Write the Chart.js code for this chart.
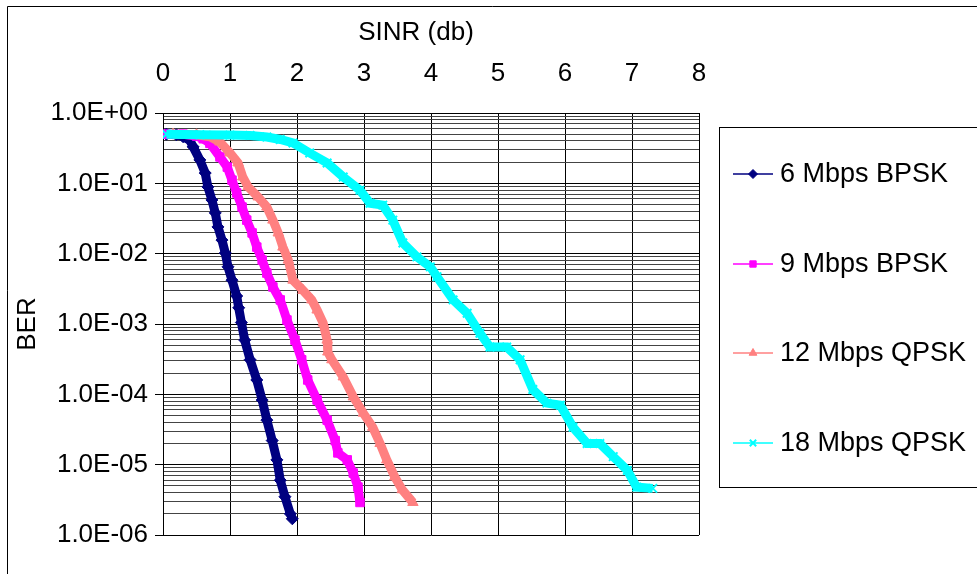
<!DOCTYPE html>
<html>
<head>
<meta charset="utf-8">
<script src="https://cdn.jsdelivr.net/npm/chart.js@4.4.1/dist/chart.umd.min.js"></script>
<style>
html, body { margin: 0; padding: 0; background: #fff; }
#wrap { width: 977px; height: 574px; }
</style>
</head>
<body>
<div id="wrap"><canvas id="myChart" width="977" height="574"></canvas></div>
<script>
const seriesLabels = ['6 Mbps BPSK', '9 Mbps BPSK', '12 Mbps QPSK', '18 Mbps QPSK'];
const seriesColors = ['#000080', '#FF00FF', '#FF8080', '#00FFFF'];
const seriesMarkers = ['rectRot', 'rect', 'triangle', 'crossRot'];

// SINR (db) / BER
const sinr6 = [0.05, 0.2, 0.3, 0.4, 0.45, 0.55, 0.63, 0.67, 0.73, 0.78, 0.82, 0.88, 0.93, 0.97, 1.03, 1.1, 1.13, 1.17, 1.22, 1.3, 1.4, 1.48, 1.55, 1.63, 1.7, 1.75, 1.82, 1.9, 1.93];
const ber6 = [0.5, 0.49, 0.46, 0.41, 0.33, 0.215, 0.14, 0.089, 0.058, 0.038, 0.024, 0.0156, 0.0102, 0.0065, 0.0042, 0.0025, 0.0017, 0.00105, 5.9e-4, 3.1e-4, 1.6e-4, 8.3e-5, 4.3e-5, 2.2e-5, 1.17e-5, 6e-6, 3.5e-6, 2.0e-6, 1.7e-6];

const sinr9 = [0.02, 0.3, 0.5, 0.6, 0.7, 0.85, 0.96, 1.03, 1.1, 1.18, 1.25, 1.33, 1.4, 1.48, 1.55, 1.64, 1.75, 1.85, 1.97, 2.07, 2.16, 2.3, 2.45, 2.57, 2.61, 2.75, 2.84, 2.91, 2.94];
const ber9 = [0.5, 0.5, 0.47, 0.43, 0.37, 0.237, 0.17, 0.111, 0.073, 0.046, 0.030, 0.0197, 0.0124, 0.0081, 0.0053, 0.00336, 0.0022, 0.00114, 5.9e-4, 3.1e-4, 1.6e-4, 8.3e-5, 4.3e-5, 2.2e-5, 1.47e-5, 1.17e-5, 7.6e-6, 4.8e-6, 2.9e-6];

const sinr12 = [0.15, 0.5, 0.7, 0.85, 1.0, 1.12, 1.19, 1.27, 1.42, 1.55, 1.64, 1.72, 1.79, 1.87, 1.94, 2.09, 2.22, 2.3, 2.39, 2.45, 2.46, 2.52, 2.69, 2.84, 2.99, 3.13, 3.24, 3.34, 3.46, 3.57, 3.73];
const ber12 = [0.5, 0.49, 0.46, 0.387, 0.27, 0.195, 0.123, 0.089, 0.064, 0.046, 0.030, 0.0197, 0.0124, 0.0081, 0.0042, 0.0030, 0.0022, 0.00158, 0.00103, 5.9e-4, 4.0e-4, 3.1e-4, 1.77e-4, 9.2e-5, 5.4e-5, 3.4e-5, 2.0e-5, 1.17e-5, 6.7e-6, 4.4e-6, 2.9e-6];

const sinr18 = [0.05, 0.55, 1.0, 1.3, 1.55, 1.75, 1.94, 2.19, 2.45, 2.69, 2.94, 3.09, 3.28, 3.43, 3.58, 3.79, 3.99, 4.09, 4.33, 4.54, 4.73, 4.88, 5.13, 5.33, 5.52, 5.73, 5.93, 6.12, 6.33, 6.52, 6.72, 6.93, 7.07, 7.31];
const ber18 = [0.5, 0.49, 0.485, 0.48, 0.455, 0.42, 0.375, 0.27, 0.195, 0.123, 0.080, 0.052, 0.049, 0.030, 0.0142, 0.0090, 0.0065, 0.0047, 0.0022, 0.00142, 7.4e-4, 4.7e-4, 4.7e-4, 3.1e-4, 1.17e-4, 7.5e-5, 7.0e-5, 3.4e-5, 2.0e-5, 2.0e-5, 1.3e-5, 8.3e-6, 4.8e-6, 4.6e-6];

const xTicks = [0, 1, 2, 3, 4, 5, 6, 7, 8];
const yDecades = [1e-6, 1e-5, 1e-4, 1e-3, 1e-2, 1e-1, 1];

const FONT = '"Liberation Sans", Arial, sans-serif';

var xs = [sinr6, sinr9, sinr12, sinr18];
var ys = [ber6, ber9, ber12, ber18];

// decade ticks plus 2..9 minor ticks for the log grid
var yTickValues = [];
for (var d = 0; d < yDecades.length - 1; d++) {
    for (var m = 1; m < 10; m++) yTickValues.push(m * yDecades[d]);
}
yTickValues.push(yDecades[yDecades.length - 1]);

function isDecade(v) {
    return yDecades.some(function(d) { return Math.abs(v / d - 1) < 1e-6; });
}

function sciLabel(v) {
    var e = Math.round(Math.log10(v));
    return '1.0E' + (e < 0 ? '-' : '+') + String(Math.abs(e)).padStart(2, '0');
}

var datasets = seriesLabels.map(function(label, i) {
    return {
        label: label,
        data: xs[i].map(function(x, k) { return { x: x, y: ys[i][k] }; }),
        showLine: true,
        borderColor: seriesColors[i],
        backgroundColor: seriesColors[i],
        borderWidth: 9,
        pointStyle: seriesMarkers[i],
        pointRadius: 6,
        pointBorderWidth: i == 3 ? 2 : 1,
        pointBorderColor: seriesColors[i],
        pointBackgroundColor: seriesColors[i],
        order: 3 - i
    };
});

var framePlugin = {
    id: 'frame',
    beforeDraw: function(chart) {
        var c = chart.ctx;
        c.save();
        c.fillStyle = '#fff';
        c.fillRect(0, 0, chart.width, chart.height);
        c.strokeStyle = '#000';
        c.lineWidth = 1;
        c.beginPath();
        c.moveTo(7.5, chart.height);
        c.lineTo(7.5, 6.5);
        c.lineTo(chart.width, 6.5);
        c.stroke();
        c.restore();
    },
    afterDraw: function(chart) {
        var c = chart.ctx;
        c.save();
        c.fillStyle = '#000';
        c.font = '26px ' + FONT;
        c.textAlign = 'center';
        c.textBaseline = 'middle';
        c.fillText('SINR (db)', 416, 33);

        c.save();
        c.translate(28, 324);
        c.rotate(-Math.PI / 2);
        c.fillText('BER', 0, 0);
        c.restore();

        // legend box, runs off the right edge like the original
        c.strokeStyle = '#000';
        c.lineWidth = 1;
        c.strokeRect(719.5, 127.5, 400, 360);

        var rows = [174, 264, 353, 443];
        chart.data.datasets.forEach(function(ds, i) {
            var y = rows[i];
            c.strokeStyle = ds.borderColor;
            c.lineWidth = 1.5;
            c.beginPath();
            c.moveTo(733, y);
            c.lineTo(773, y);
            c.stroke();
            c.fillStyle = ds.backgroundColor;
            c.strokeStyle = ds.borderColor;
            c.lineWidth = ds.pointBorderWidth;
            Chart.helpers.drawPoint(c, { pointStyle: ds.pointStyle, radius: 4.5, rotation: 0, borderWidth: ds.pointBorderWidth }, 753, y);
            c.fillStyle = '#000';
            c.textAlign = 'left';
            c.font = '27px ' + FONT;
            c.fillText(ds.label, 780, y + 1);
        });
        c.restore();
    }
};

var myChart = new Chart(document.getElementById('myChart').getContext('2d'), {
    type: 'scatter',
    data: { datasets: datasets },
    options: {
        responsive: false,
        animation: false,
        layout: { padding: { left: 0, top: 0, right: 278, bottom: 39 } },
        plugins: {
            legend: { display: false },
            tooltip: { enabled: false }
        },
        scales: {
            x: {
                type: 'linear',
                position: 'top',
                min: 0,
                max: 8,
                afterBuildTicks: function(scale) {
                    scale.ticks = xTicks.map(function(v) { return { value: v }; });
                },
                afterFit: function(scale) { scale.height = 113; },
                ticks: {
                    color: '#000',
                    font: { family: FONT, size: 26 },
                    padding: 24,
                    maxRotation: 0
                },
                grid: { color: '#000', lineWidth: 1, drawTicks: false },
                border: { display: true, color: '#000' }
            },
            y: {
                type: 'logarithmic',
                position: 'left',
                min: 1e-6,
                max: 1,
                afterBuildTicks: function(scale) {
                    scale.ticks = yTickValues.map(function(v) { return { value: v, major: isDecade(v) }; });
                },
                afterFit: function(scale) { scale.width = 163; },
                ticks: {
                    color: '#000',
                    font: { family: FONT, size: 26 },
                    padding: 7,
                    autoSkip: false,
                    callback: function(v) { return isDecade(v) ? sciLabel(v) : ''; }
                },
                grid: {
                    lineWidth: 1,
                    tickLength: 8,
                    color: function(ctx) { return ctx.tick && isDecade(ctx.tick.value) ? '#000' : '#444'; },
                    tickColor: function(ctx) { return ctx.tick && isDecade(ctx.tick.value) ? '#000' : 'rgba(0,0,0,0)'; }
                },
                border: { display: true, color: '#000' }
            }
        }
    },
    plugins: [framePlugin]
});
</script>
</body>
</html>
